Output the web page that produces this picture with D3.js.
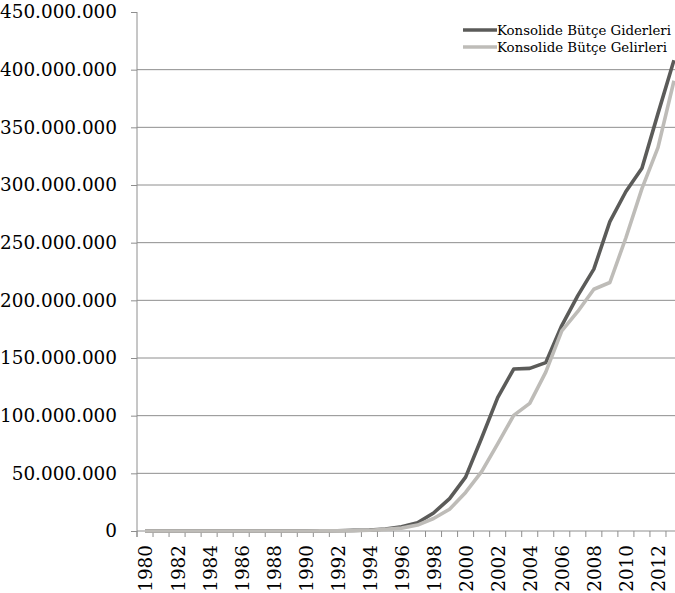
<html>
  <head>
    <meta charset="utf-8">
    <script type="text/javascript" src="https://cdn.jsdelivr.net/npm/d3@7"></script>
    <style>
      body { margin: 0; background: #fff; }
      text { font-family: "DejaVu Serif", serif; fill: #000; }
    </style>
  </head>
  <body>
    <div id="chart"></div>
    <script type="text/javascript">
      // years on the category axis
      var years = d3.range(1980, 2014);
      var yearLabels = years.filter(function(y) { return y % 2 === 0; });

      // consolidated budget, thousand TL
      var giderler = [760, 1100, 1300, 2100, 3600, 5000, 7600, 11000, 17900, 36000,
        64000, 129000, 240000, 528000, 876000, 1710000, 3761000, 7097000, 15585000, 28129000,
        46705000, 80620000, 115682000, 140455000, 141037000, 146017000, 178126000, 204068000,
        227031000, 268219000, 294359000, 314607000, 361887000, 408225000];
      var gelirler = [550, 1000, 1100, 1500, 2200, 3800, 6000, 8300, 13200, 25100,
        45400, 78600, 150000, 263000, 662000, 1390000, 2506000, 5167000, 10871000, 18873000,
        33421000, 51510000, 75592000, 100250000, 110674000, 137743000, 173483000, 190360000,
        209598000, 215458000, 254277000, 296824000, 332475000, 390472000];

      var yTicks = [0, 50000000, 100000000, 150000000, 200000000, 250000000, 300000000, 350000000, 400000000, 450000000];

      var series = [
        { name: "Konsolide Bütçe Giderleri", values: giderler, color: "#5b5b59" },
        { name: "Konsolide Bütçe Gelirleri", values: gelirler, color: "#bebcb8" }
      ];

      var W = 675, H = 593,
          X0 = 137, X1 = 682, Y0 = 531, Y1 = 12;

      var svg = d3.select("#chart").append("svg").attr("width", W).attr("height", H);

      var x = d3.scaleBand().domain(years).range([X0, X1]);
      var y = d3.scaleLinear().domain([0, 450000000]).range([Y0, Y1]);

      var fmt = function(d) { return d3.format(",")(d).replace(/,/g, "."); };

      // gridlines
      svg.append("g").selectAll("line").data(yTicks.filter(function(d) { return d > 0 && d < 450000000; }))
        .enter().append("line")
        .attr("x1", X0).attr("x2", W)
        .attr("y1", function(d) { return y(d); }).attr("y2", function(d) { return y(d); })
        .attr("stroke", "#8e8e8e").attr("stroke-width", 1);

      // y axis
      var yAxis = d3.axisLeft(y).tickValues(yTicks).tickSize(6).tickPadding(14).tickFormat(fmt);
      var gy = svg.append("g").attr("transform", "translate(" + X0 + ",0)").call(yAxis);
      gy.select(".domain").attr("stroke", "#8e8e8e").attr("d", "M0," + Y1 + "V" + (Y0 + 6));
      gy.selectAll(".tick line").attr("stroke", "#8e8e8e");
      gy.selectAll("text").style("font-size", "18.4px").attr("font-family", null);

      // x axis, ticks between categories
      var gx = svg.append("g").attr("transform", "translate(0," + Y0 + ")");
      gx.append("line").attr("x1", X0).attr("x2", X1).attr("stroke", "#8e8e8e");
      gx.selectAll(".xt").data(years.concat([2014])).enter().append("line")
        .attr("class", "xt")
        .attr("x1", function(d) { return d === 2014 ? X1 : x(d); })
        .attr("x2", function(d) { return d === 2014 ? X1 : x(d); })
        .attr("y1", 0).attr("y2", 6).attr("stroke", "#8e8e8e");
      gx.selectAll(".xl").data(yearLabels).enter().append("text")
        .attr("class", "xl")
        .attr("transform", function(d) {
          return "translate(" + (x(d) + x.bandwidth() / 2 + 1) + ",14) rotate(-90)";
        })
        .attr("text-anchor", "end").attr("dy", "0.35em")
        .style("font-size", "18.4px")
        .text(function(d) { return d; });

      // lines
      var line = d3.line()
        .x(function(d, i) { return x(years[i]) + x.bandwidth() / 2; })
        .y(function(d) { return y(d); });

      svg.append("g").selectAll("path").data(series).enter().append("path")
        .attr("d", function(s) { return line(s.values); })
        .attr("fill", "none")
        .attr("stroke", function(s) { return s.color; })
        .attr("stroke-width", 3.6)
        .attr("stroke-linejoin", "round");

      // legend
      var lg = svg.append("g").selectAll("g").data(series).enter().append("g")
        .attr("transform", function(s, i) { return "translate(463," + (30 + i * 17) + ")"; });
      lg.append("line").attr("x1", 0).attr("x2", 34)
        .attr("stroke", function(s) { return s.color; }).attr("stroke-width", 3.6);
      lg.append("text").attr("x", 34).attr("dy", "0.35em")
        .style("font-size", "13.2px")
        .attr("textLength", function(s, i) { return i === 0 ? 174 : 170; })
        .attr("lengthAdjust", "spacingAndGlyphs")
        .text(function(s) { return s.name; });
    </script>
  </body>
</html>
